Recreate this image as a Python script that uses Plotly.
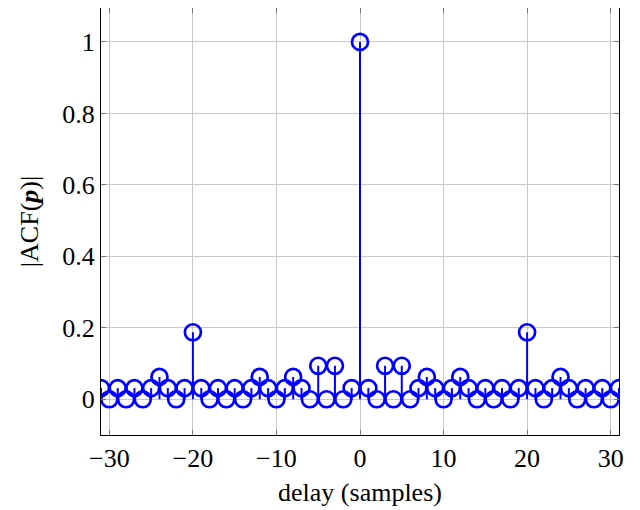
import plotly.graph_objects as go

lags = list(range(-31, 32))
acf_right = [0.03125, 0.0, 0.09375, 0.0, 0.09375, 0.0, 0.03125, 0.0625, 0.03125, 0.0,
             0.03125, 0.0625, 0.03125, 0.0, 0.03125, 0.0, 0.03125, 0.0, 0.03125, 0.1875,
             0.03125, 0.0, 0.03125, 0.0625, 0.03125, 0.0, 0.03125, 0.0, 0.03125, 0.0, 0.03125]
acf = acf_right[::-1] + [1.0] + acf_right

x_ticks = [-30, -20, -10, 0, 10, 20, 30]
y_ticks = [0, 0.2, 0.4, 0.6, 0.8, 1]
y_tick_text = ["0", "0.2", "0.4", "0.6", "0.8", "1"]

stem_x, stem_y = [], []
for k, v in zip(lags, acf):
    stem_x += [k, k, None]
    stem_y += [0, v, None]

BLUE = "#0000ff"
fig = go.Figure()
fig.add_trace(go.Scatter(x=stem_x, y=stem_y, mode="lines",
                         line=dict(color=BLUE, width=2), hoverinfo="skip", showlegend=False))
fig.add_trace(go.Scatter(x=lags, y=acf, mode="markers",
                         marker=dict(symbol="circle-open", size=16, color=BLUE,
                                     line=dict(color=BLUE, width=2.7)),
                         showlegend=False))

font = dict(family="Liberation Serif, DejaVu Serif, serif", size=26, color="black")
axis_common = dict(showgrid=True, gridcolor="#c8c8c8", gridwidth=1,
                   showline=True, linecolor="black", linewidth=1, mirror="allticks",
                   ticks="inside", ticklen=5, tickcolor="#777777", zeroline=False,
                   tickfont=font)
fig.update_xaxes(range=[-31, 31], tickvals=x_ticks,
                 title=dict(text="delay (samples)", font=font, standoff=10),
                 **axis_common)
fig.update_yaxes(range=[-0.1, 1.095], tickvals=y_ticks, ticktext=y_tick_text,
                 title=dict(text="|ACF(<b><i>p</i></b>)|", font=font, standoff=16),
                 **axis_common)
fig.update_layout(width=632, height=502, margin=dict(l=93, r=21, t=0, b=75),
                  plot_bgcolor="white", paper_bgcolor="white", font=font)
fig.write_html("out.html")
